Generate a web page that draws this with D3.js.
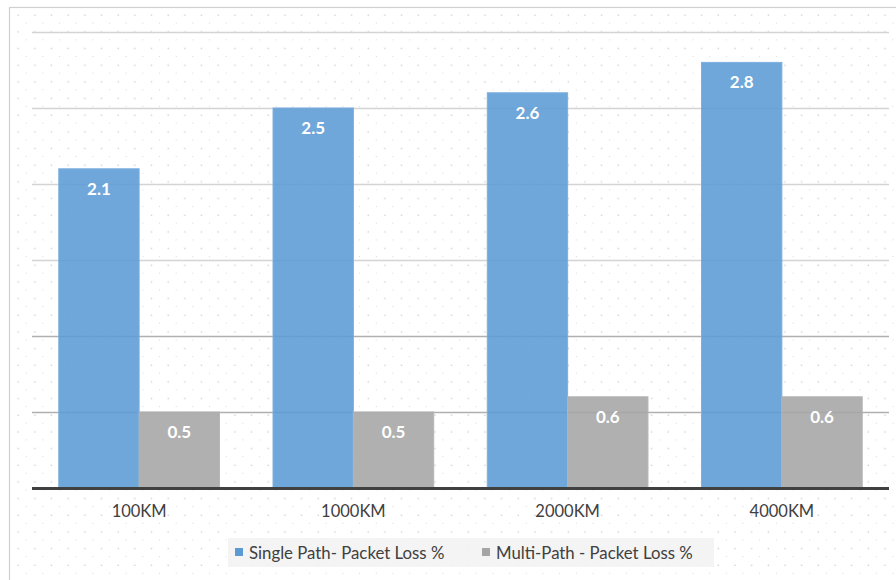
<!DOCTYPE html>
<html><head><meta charset="utf-8">
<script src="https://cdn.jsdelivr.net/npm/d3@7"></script>
<style>body{margin:0;background:#fff}svg{display:block}</style>
</head><body><svg id="c" width="896" height="580"></svg>
<script>
const categories = ["100KM","1000KM","2000KM","4000KM"];
const singlePath = [2.1,2.5,2.6,2.8];
const multiPath = [0.5,0.5,0.6,0.6];
const seriesNames = ["Single Path- Packet Loss %","Multi-Path - Packet Loss %"];
const yTicks = [0,0.5,1,1.5,2,2.5,3];
const colors = ["#5b9bd5","#a5a5a5"];

const svg = d3.select("#c");
const font = "Lato, 'Open Sans', sans-serif";
const defs = svg.append("defs");
const pat = defs.append("pattern").attr("id","dots").attr("patternUnits","userSpaceOnUse")
  .attr("width",16.67).attr("height",16.67).attr("x",10).attr("y",7);
pat.append("rect").attr("x",7.5).attr("y",7.5).attr("width",1.4).attr("height",1.4).attr("fill","#cfcfcf");
pat.append("rect").attr("x",15.8).attr("y",15.8).attr("width",1.4).attr("height",1.4).attr("fill","#cfcfcf");

svg.append("rect").attr("x",9.5).attr("y",7.5).attr("width",900).attr("height",600)
  .attr("fill","url(#dots)").attr("stroke","#d0d0d0").attr("stroke-width",1.2);

const x = d3.scaleBand().domain(categories).range([32,889]).paddingInner(0.25).paddingOuter(0.125);
const x1 = d3.scaleBand().domain([0,1]).range([0,x.bandwidth()]);
const y = d3.scaleLinear().domain([0,3]).range([488,32]);

svg.append("g").selectAll("line").data(yTicks.filter(d=>d>0)).join("line")
  .attr("x1",32).attr("x2",889).attr("y1",d=>Math.round(y(d))+0.5).attr("y2",d=>Math.round(y(d))+0.5)
  .attr("stroke",d=>d<=1?"#b0b0b0":"#d4d4d4").attr("stroke-width",1.5);

const data = categories.map((c,i)=>({c, v:[singlePath[i], multiPath[i]]}));
const g = svg.append("g").selectAll("g").data(data).join("g").attr("transform",d=>`translate(${x(d.c)},0)`);
g.selectAll("rect").data(d=>d.v.map((v,k)=>({v,k}))).join("rect")
  .attr("x",d=>x1(d.k)).attr("width",x1.bandwidth())
  .attr("y",d=>y(d.v)).attr("height",d=>y(0)-y(d.v))
  .attr("fill",d=>colors[d.k]).attr("fill-opacity",0.88)
  .attr("stroke",d=>d.k===0?"#7aafe0":"#b5b5b5").attr("stroke-width",1);
g.selectAll("text").data(d=>d.v.map((v,k)=>({v,k}))).join("text")
  .attr("x",d=>x1(d.k)+x1.bandwidth()/2).attr("y",d=>y(d.v)+26)
  .attr("text-anchor","middle").attr("fill","#fff").attr("font-weight","bold")
  .attr("font-family",font).attr("font-size",17).text(d=>d.v.toFixed(1));

svg.append("line").attr("x1",32).attr("x2",889).attr("y1",488.5).attr("y2",488.5)
  .attr("stroke","#404040").attr("stroke-width",3);

const xa = svg.append("g").attr("transform","translate(0,488)").call(d3.axisBottom(x).tickSize(0).tickPadding(17));
xa.select(".domain").remove();
xa.selectAll("text").attr("font-family",font).attr("font-size",16.5).attr("fill","#404040");

svg.append("rect").attr("x",228).attr("y",538).attr("width",486).attr("height",29).attr("fill","#f2f2f2").attr("fill-opacity",0.85);
const lx = [235,482];
const lg = svg.append("g").selectAll("g").data(seriesNames).join("g").attr("transform",(d,i)=>`translate(${lx[i]},0)`);
lg.append("rect").attr("x",0).attr("y",548).attr("width",8).attr("height",8).attr("fill",(d,i)=>colors[i]);
lg.append("text").attr("x",14).attr("y",558.5).attr("font-family",font).attr("font-size",16.8).attr("fill","#404040").text(d=>d);
</script></body></html>
